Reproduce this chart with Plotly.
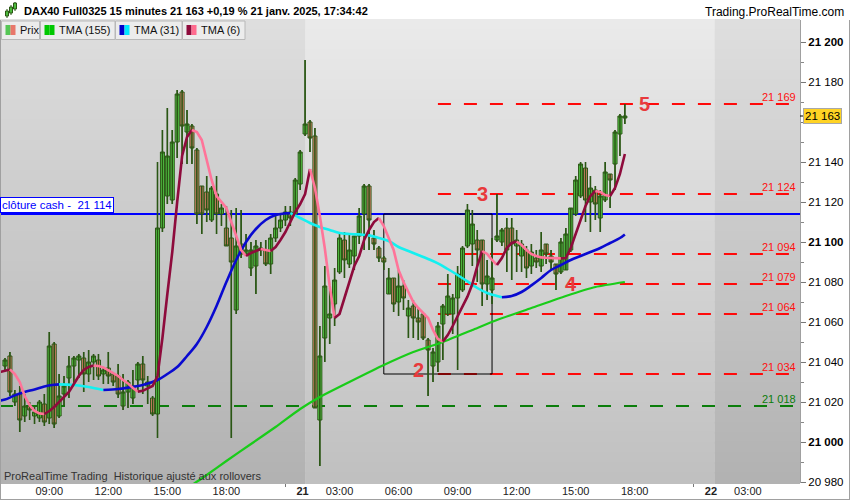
import plotly.graph_objects as go

# ---------------- data ----------------
def session(day, h, m, n):
    out = []
    for _ in range(n):
        out.append(f"{day} janv. 2025 {h:02d}:{m:02d}")
        m += 15
        if m == 60:
            h, m = h + 1, 0
    return out

times = session(20, 6, 45, 61) + session(21, 1, 15, 66)

opens = [21038, 21043, 21020, 21024, 21013, 21018, 21013, 21012, 21019, 21012,
         21049, 21013, 21024, 21032, 21038, 21041, 21042, 21034, 21040, 21041,
         21034, 21037, 21034, 21033, 21018, 21025, 21022, 21031, 21039, 21028,
         21022, 21014, 21107, 21123, 21121, 21150, 21175, 21155, 21158, 21146,
         21128, 21125, 21111, 21124, 21114, 21107, 21102, 21066, 21099, 21094,
         21087, 21088, 21097, 21096, 21089, 21102, 21107, 21111, 21115, 21114,
         21129, 21154, 21160, 21153, 21011, 21052, 21062, 21069, 21085, 21101,
         21089, 21093, 21103, 21114, 21128, 21102, 21097, 21092, 21074, 21082,
         21070, 21078, 21063, 21068, 21062, 21064, 21051, 21038, 21040, 21059,
         21064, 21064, 21072, 21076, 21098, 21099, 21101, 21101, 21079, 21076,
         21101, 21100, 21107, 21107, 21098, 21093, 21096, 21088, 21092, 21088,
         21099, 21093, 21089, 21085, 21086, 21096, 21114, 21123, 21137, 21120,
         21126, 21112, 21121, 21134, 21139, 21154, 21162]
highs = [21042, 21045, 21026, 21028, 21024, 21020, 21018, 21021, 21024, 21055,
         21050, 21034, 21033, 21043, 21043, 21044, 21045, 21046, 21044, 21044,
         21037, 21045, 21035, 21039, 21034, 21031, 21036, 21040, 21043, 21033,
         21023, 21140, 21156, 21167, 21156, 21176, 21176, 21166, 21159, 21147,
         21128, 21133, 21128, 21133, 21119, 21118, 21116, 21117, 21116, 21104,
         21100, 21101, 21100, 21101, 21104, 21113, 21114, 21118, 21118, 21132,
         21146, 21191, 21161, 21157, 21058, 21088, 21077, 21087, 21104, 21105,
         21104, 21103, 21117, 21129, 21129, 21106, 21098, 21093, 21087, 21082,
         21086, 21081, 21071, 21071, 21067, 21064, 21052, 21047, 21060, 21069,
         21084, 21074, 21088, 21098, 21119, 21116, 21106, 21101, 21091, 21102,
         21124, 21107, 21112, 21112, 21106, 21101, 21098, 21099, 21096, 21105,
         21099, 21096, 21089, 21102, 21107, 21117, 21133, 21140, 21140, 21133,
         21128, 21126, 21140, 21134, 21156, 21164, 21169]
lows = [21036, 21023, 21018, 21005, 21010, 21011, 21009, 21010, 21008, 21009,
        21007, 21012, 21018, 21022, 21028, 21032, 21025, 21030, 21031, 21031,
        21029, 21029, 21028, 21022, 21016, 21017, 21019, 21026, 21024, 21019,
        21013, 21002, 21105, 21119, 21119, 21142, 21139, 21139, 21139, 21109,
        21104, 21110, 21110, 21104, 21108, 21098, 21002, 21064, 21092, 21093,
        21083, 21074, 21093, 21088, 21084, 21100, 21105, 21108, 21108, 21113,
        21126, 21153, 21145, 21017, 20988, 21040, 21049, 21058, 21084, 21082,
        21087, 21086, 21099, 21096, 21096, 21096, 21090, 21086, 21074, 21065,
        21063, 21066, 21052, 21052, 21051, 21051, 21023, 21030, 21035, 21041,
        21063, 21054, 21036, 21075, 21097, 21088, 21080, 21068, 21071, 21069,
        21100, 21098, 21085, 21081, 21085, 21085, 21082, 21084, 21087, 21085,
        21089, 21086, 21076, 21084, 21086, 21095, 21113, 21122, 21110, 21105,
        21111, 21105, 21120, 21117, 21126, 21143, 21159]
closes = [21041, 21025, 21024, 21011, 21018, 21016, 21015, 21020, 21010, 21048,
          21009, 21023, 21028, 21038, 21042, 21043, 21034, 21040, 21043, 21033,
          21036, 21033, 21030, 21024, 21025, 21030, 21028, 21039, 21031, 21030,
          21014, 21107, 21145, 21143, 21150, 21174, 21158, 21159, 21147, 21114,
          21114, 21116, 21127, 21114, 21117, 21098, 21090, 21098, 21094, 21096,
          21096, 21098, 21096, 21089, 21102, 21107, 21111, 21115, 21112, 21131,
          21145, 21159, 21152, 21017, 21043, 21078, 21064, 21081, 21102, 21091,
          21096, 21103, 21113, 21128, 21111, 21099, 21092, 21090, 21082, 21069,
          21078, 21072, 21067, 21062, 21060, 21052, 21046, 21045, 21058, 21068,
          21073, 21072, 21084, 21097, 21116, 21109, 21096, 21079, 21083, 21082,
          21103, 21106, 21096, 21099, 21101, 21099, 21087, 21095, 21090, 21096,
          21094, 21090, 21084, 21100, 21104, 21117, 21131, 21139, 21121, 21127,
          21119, 21123, 21135, 21131, 21155, 21163, 21163]

tma6_x = list(range(-1, 127))
tma6 = [21035.0, 21035.5, 21036.3, 21034.0, 21030.0, 21023.0, 21018.5, 21015.5, 21014.3, 21014.0,
        21015.5, 21017.5, 21020.0, 21022.5, 21025.0, 21029.0, 21033.0, 21036.0, 21037.5, 21038.2,
        21038.0, 21037.3, 21036.0, 21034.5, 21033.0, 21031.0, 21029.3, 21027.0, 21025.2, 21025.6,
        21026.8, 21028.0, 21033.0, 21052.0, 21074.0, 21095.0, 21120.0, 21143.0, 21152.5, 21156.0,
        21155.0, 21151.0, 21141.0, 21131.0, 21123.0, 21120.0, 21117.0, 21110.0, 21103.0, 21096.0,
        21093.0, 21094.5, 21095.5, 21096.5, 21096.0, 21095.5, 21097.5, 21101.0, 21105.0, 21110.0,
        21115.0, 21119.0, 21124.0, 21136.5, 21127.0, 21113.0, 21097.0, 21078.0, 21062.0, 21064.0,
        21072.0, 21080.0, 21088.0, 21093.0, 21101.0, 21106.0, 21110.0, 21112.0, 21108.0, 21102.0,
        21096.0, 21086.0, 21080.0, 21075.0, 21070.0, 21067.0, 21064.5, 21062.0, 21056.0, 21051.5,
        21050.2, 21053.5, 21058.0, 21063.0, 21068.0, 21072.7, 21079.0, 21088.0, 21095.5, 21094.0,
        21091.0, 21088.5, 21092.0, 21097.0, 21099.5, 21100.2, 21098.5, 21096.0, 21094.0, 21093.0,
        21092.3, 21092.1, 21092.0, 21091.9, 21091.8, 21092.0, 21097.0, 21104.0, 21111.0, 21118.0,
        21123.0, 21125.5, 21125.0, 21123.5, 21123.0, 21127.0, 21134.0, 21144.0]

tma31_x = [-1, 0, 2, 4, 6, 8, 10, 11, 14, 17, 20, 23, 25, 28, 31, 33, 35, 37, 39, 41, 43, 45,
           47, 49, 51, 53, 55, 57, 58, 60, 62, 64, 66, 68, 70, 72, 74, 76, 78, 80, 82, 84,
           86, 88, 90, 92, 94, 96, 98, 100, 101, 103, 105, 107, 109, 111, 113, 115, 117,
           119, 121, 123, 125, 126]
tma31 = [21020.7, 21021.2, 21023.3, 21025.0, 21026.3, 21027.8, 21028.6, 21028.8, 21028.5,
         21027.5, 21026.0, 21026.5, 21027.2, 21028.5, 21031.0, 21034.0, 21037.5, 21043.0,
         21049.0, 21057.5, 21068.0, 21080.0, 21091.0, 21100.0, 21106.5, 21111.0, 21113.5,
         21114.3, 21114.4, 21112.0, 21109.5, 21107.5, 21106.0, 21104.5, 21104.0, 21103.8,
         21103.3, 21102.0, 21100.5, 21097.5, 21095.5, 21093.5, 21091.5, 21089.3, 21086.5,
         21083.5, 21080.3, 21077.0, 21074.5, 21073.0, 21072.4, 21073.0, 21075.0, 21078.3,
         21082.0, 21086.0, 21088.5, 21091.0, 21093.0, 21095.0, 21097.0, 21099.5, 21102.0,
         21103.8]

tma155_x = [38, 41, 45, 50, 55, 60, 64, 70, 77, 83, 89, 95, 100, 107, 114, 120, 126]
tma155 = [20978.5, 20983.5, 20990.5, 20999.0, 21007.5, 21016.5, 21022.5, 21030.0, 21038.5,
          21045.0, 21050.0, 21056.0, 21061.0, 21067.0, 21073.0, 21077.5, 21080.0]

x_tick_pos = [9, 21, 33, 45, 60.5, 68, 80, 92, 104, 116, 128, 143.5, 151]
x_tick_text = ["09:00", "12:00", "15:00", "18:00", "<b>21</b>", "03:00", "06:00",
               "09:00", "12:00", "15:00", "18:00", "<b>22</b>", "03:00"]
x_minor_ticks = [57, 140]
y_tick_vals = [20980, 21000, 21020, 21040, 21060, 21080, 21100, 21120, 21140, 21160, 21180, 21200]

cash_close = 21114
red_levels = [21169, 21124, 21094, 21079, 21064, 21034]
support_level = 21018
levels_start = 88
box_x = [77, 99]
box_y = [21034, 21114]
wave_labels = ["2", "3", "4", "5"]
wave_x = [84, 97, 115, 130]
wave_y = [21036, 21124, 21079, 21169]
last_price = 21163
zones = [(-1.5, 61.0, "dark"), (61.0, 144.3, "light"), (144.3, 163, "dark")]

header = "DAX40 Full0325 15 minutes 21 163 +0,19 % 21 janv. 2025, 17:34:42"

# ---------------- styling ----------------
W, H = 850, 500
ML, MR, MT, MB = 0, 50, 20, 17
PW, PH = W - ML - MR, H - MT - MB
FONT = "Liberation Sans, Arial, sans-serif"
WICK = "#2a5614"
UP = "#5ad64e"
DOWN = "#ee8676"


def px(x):
    return (x - ML) / PW


def py(y):
    return (H - MB - y) / PH


def fmt(v):
    v = int(round(v))
    return f"{v // 1000} {v % 1000:03d}"


fig = go.Figure()

# wicks
wx, wy = [], []
for i, (h, l) in enumerate(zip(highs, lows)):
    wx += [i, i, None]
    wy += [l, h, None]
fig.add_trace(go.Scatter(x=wx, y=wy, mode="lines", line=dict(color=WICK, width=1.6),
                         hoverinfo="skip", showlegend=False))

fig.add_trace(go.Candlestick(
    x=list(range(len(times))), open=opens, high=highs, low=lows, close=closes,
    text=times,
    increasing=dict(line=dict(color=WICK, width=1), fillcolor=UP),
    decreasing=dict(line=dict(color=WICK, width=1), fillcolor=DOWN),
    whiskerwidth=0, hoverinfo="skip", showlegend=False))


def two_tone(xs, ys, up_color, down_color, width, shape):
    runs = []
    start = 0
    cur = ys[1] >= ys[0]
    for k in range(1, len(ys) - 1):
        d = ys[k + 1] >= ys[k]
        if d != cur:
            runs.append((start, k, cur))
            start, cur = k, d
    runs.append((start, len(ys) - 1, cur))
    for s, e, up in runs:
        fig.add_trace(go.Scatter(x=xs[s:e + 1], y=ys[s:e + 1], mode="lines",
                                 line=dict(color=up_color if up else down_color, width=width,
                                           shape=shape),
                                 hoverinfo="skip", showlegend=False))


fig.add_trace(go.Scatter(x=tma155_x, y=tma155, mode="lines",
                         line=dict(color="#19cc19", width=2.2, shape="spline", smoothing=0.6),
                         hoverinfo="skip", showlegend=False))
two_tone(tma31_x, tma31, "#0a0ad0", "#14f0f0", 2.6, "spline")
two_tone(tma6_x, tma6, "#8e0b3c", "#ff7499", 2.6, "linear")

shapes = []
# background gradient bands
cols = {"dark": ((222, 222, 222), (178, 178, 178)), "light": ((234, 234, 234), (192, 192, 192))}
NB = 46
for x0, x1, kind in zones:
    top, bot = cols[kind]
    for k in range(NB):
        f = (k + 0.5) / NB
        c = tuple(int(round(top[j] + (bot[j] - top[j]) * f)) for j in range(3))
        shapes.append(dict(type="rect", xref="x", yref="paper", x0=x0, x1=x1,
                           y0=1 - (k + 1) / NB - 0.002, y1=1 - k / NB + 0.002,
                           fillcolor=f"rgb{c}", line=dict(width=0), layer="below"))

# level lines
shapes.append(dict(type="line", xref="paper", yref="y", x0=0, x1=1, y0=support_level,
                   y1=support_level, line=dict(color="#0b7d0b", width=2, dash="13px,13px"),
                   layer="below"))
for lv in red_levels:
    shapes.append(dict(type="line", xref="x", yref="y", x0=levels_start, x1=163, y0=lv, y1=lv,
                       line=dict(color="#ff0a0a", width=2, dash="13px,13px"), layer="below"))
shapes.append(dict(type="rect", xref="x", yref="y", x0=box_x[0], x1=box_x[1], y0=box_y[0],
                   y1=box_y[1], line=dict(color="#000000", width=1), layer="below"))
shapes.append(dict(type="line", xref="paper", yref="y", x0=0, x1=1, y0=cash_close,
                   y1=cash_close, line=dict(color="#0000ff", width=2), layer="below"))

# frame
shapes.append(dict(type="line", xref="paper", yref="paper", x0=px(0.5), x1=px(0.5),
                   y0=py(499), y1=py(20), line=dict(color="#a0a0a0", width=1)))
shapes.append(dict(type="line", xref="paper", yref="paper", x0=px(0), x1=px(850),
                   y0=py(499.5), y1=py(499.5), line=dict(color="#a0a0a0", width=1)))
shapes.append(dict(type="line", xref="paper", yref="paper", x0=px(849.5), x1=px(849.5),
                   y0=py(499), y1=py(20), line=dict(color="#a0a0a0", width=1)))
# price marker tick
shapes.append(dict(type="line", xref="paper", yref="y", x0=1.0, x1=px(805), y0=last_price,
                   y1=last_price, line=dict(color="#000000", width=1)))

# header icon
for (cx, yt, yb, wt, wb) in [(7, 11, 16, 9, 18), (11, 7, 13, 5, 15), (15, 3, 9, 2, 11)]:
    shapes.append(dict(type="line", xref="paper", yref="paper", x0=px(cx), x1=px(cx),
                       y0=py(wb), y1=py(wt), line=dict(color=WICK, width=1)))
    shapes.append(dict(type="rect", xref="paper", yref="paper", x0=px(cx - 1.5),
                       x1=px(cx + 1.5), y0=py(yb), y1=py(yt), fillcolor="#4cbb3c",
                       line=dict(color=WICK, width=1)))

# legend buttons
buttons = [(1.5, 39.5, "Prix", ("#55c655", "#e8776b")),
           (40.5, 115, "TMA (155)", ("#00c800", "#00c800")),
           (115.5, 182, "TMA (31)", ("#0000cc", "#00e8ff")),
           (182.5, 245, "TMA (6)", ("#8e0b3c", "#ff6b8e"))]
annotations = []
for x0, x1, label, (c1, c2) in buttons:
    shapes.append(dict(type="rect", xref="paper", yref="paper", x0=px(x0), x1=px(x1),
                       y0=py(39.5), y1=py(21), fillcolor="#ececec",
                       line=dict(color="#b8b8b8", width=1)))
    ix = x0 + 4
    shapes.append(dict(type="rect", xref="paper", yref="paper", x0=px(ix), x1=px(ix + 5),
                       y0=py(35), y1=py(25), fillcolor=c1, line=dict(width=0)))
    shapes.append(dict(type="rect", xref="paper", yref="paper", x0=px(ix + 5), x1=px(ix + 10),
                       y0=py(35), y1=py(25), fillcolor=c2, line=dict(width=0)))
    annotations.append(dict(xref="paper", yref="paper", x=px(ix + 12.5), y=py(30.5),
                            xanchor="left", yanchor="middle", showarrow=False, text=label,
                            font=dict(family=FONT, size=11, color="#111111")))

# header texts
annotations.append(dict(xref="paper", yref="paper", x=px(22), y=py(11), xanchor="left",
                        yanchor="middle", showarrow=False, text=f"<b>{header}</b>",
                        font=dict(family=FONT, size=11, color="#000000")))
annotations.append(dict(xref="paper", yref="paper", x=px(846), y=py(12), xanchor="right",
                        yanchor="middle", showarrow=False, text="Trading.ProRealTime.com",
                        font=dict(family=FONT, size=12, color="#000000")))
annotations.append(dict(xref="paper", yref="paper", x=px(2), y=py(476), xanchor="left",
                        yanchor="middle", showarrow=False,
                        text="ProRealTime Trading  Historique ajusté aux rollovers",
                        font=dict(family=FONT, size=11, color="#333333")))

# cash close label
annotations.append(dict(xref="paper", yref="y", x=0, y=cash_close, xanchor="left",
                        yanchor="bottom", yshift=1, showarrow=False,
                        text="clôture cash - &nbsp;" + fmt(cash_close),
                        font=dict(family=FONT, size=11.5, color="#0000ff"),
                        bgcolor="#ffffff", bordercolor="#0000ff", borderwidth=1, borderpad=1))

# level labels
for lv in red_levels:
    annotations.append(dict(xref="paper", yref="y", x=px(797), y=lv, xanchor="right",
                            yanchor="bottom", showarrow=False, text=fmt(lv), borderpad=0,
                            font=dict(family=FONT, size=11, color="#ff1010")))
annotations.append(dict(xref="paper", yref="y", x=px(797), y=support_level, xanchor="right",
                        yanchor="bottom", showarrow=False, text=fmt(support_level), borderpad=0,
                        font=dict(family=FONT, size=11, color="#0b7d0b")))

# wave numbers
for t, wxv, wyv in zip(wave_labels, wave_x, wave_y):
    annotations.append(dict(xref="x", yref="y", x=wxv, y=wyv, xanchor="center",
                            yanchor="middle", showarrow=False, text=f"<b>{t}</b>",
                            font=dict(family=FONT, size=20, color="#e8393c")))

# last price box
annotations.append(dict(xref="paper", yref="y", x=px(803), y=last_price, xanchor="left",
                        yanchor="middle", showarrow=False, text=fmt(last_price),
                        font=dict(family=FONT, size=11.5, color="#000000"),
                        bgcolor="#ffd324", bordercolor="#a8a8a8", borderwidth=1, borderpad=1))

# the 21 160 label is hidden behind the last-price box in the original
y_tick_text = [("" if abs(v - last_price) < 8 else
                (f"<b>{fmt(v)}</b>" if v % 100 == 0 else fmt(v))) for v in y_tick_vals]
y_minor = [v + 10 for v in y_tick_vals[:-1]]

fig.update_layout(
    width=W, height=H, margin=dict(l=ML, r=MR, t=MT, b=MB, pad=0),
    paper_bgcolor="#ffffff", plot_bgcolor="#dcdcdc",
    showlegend=False, hovermode=False,
    boxgap=0.18, boxgroupgap=0,
    shapes=shapes, annotations=annotations,
    xaxis=dict(range=[-1.016, 161.6], rangeslider=dict(visible=False), showgrid=False,
               zeroline=False, tickmode="array", tickvals=x_tick_pos, ticktext=x_tick_text,
               ticks="", tickfont=dict(family=FONT, size=11, color="#222222"),
               minor=dict(tickmode="array", tickvals=x_minor_ticks, ticks="outside",
                          ticklen=3, tickcolor="#777777", showgrid=False),
               showline=False, fixedrange=True),
    yaxis=dict(range=[20979.5, 21211], side="right", showgrid=False, zeroline=False,
               tickmode="array", tickvals=y_tick_vals, ticktext=y_tick_text,
               ticks="outside", ticklen=5, tickcolor="#777777",
               tickfont=dict(family=FONT, size=11.5, color="#000000"),
               minor=dict(tickmode="array", tickvals=y_minor, ticks="outside", ticklen=3,
                          tickcolor="#888888", showgrid=False),
               showline=True, linecolor="#a0a0a0", linewidth=1, fixedrange=True),
)

fig.write_html("out.html", config={"displayModeBar": False},
               post_script="document.body.style.margin='0';document.body.style.padding='0';")
